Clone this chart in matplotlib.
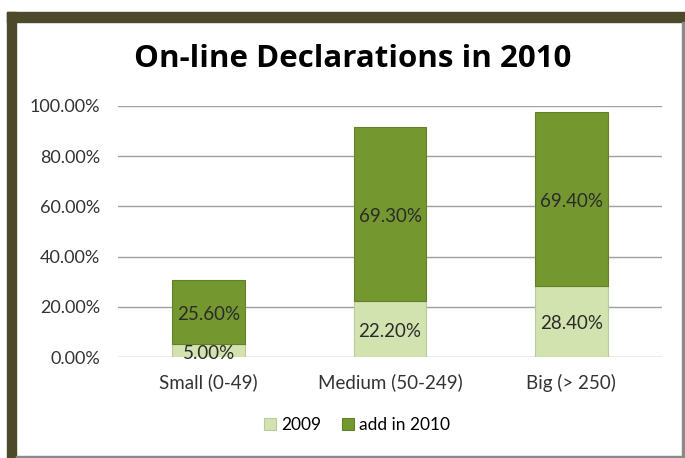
import matplotlib.pyplot as plt
from matplotlib.patches import Rectangle
from matplotlib.ticker import FuncFormatter

categories = ["Small (0-49)", "Medium (50-249)", "Big (> 250)"]
v2009 = [5.00, 22.20, 28.40]
v2010_add = [25.60, 69.30, 69.40]
series_names = ["2009", "add in 2010"]
title = "On-line Declarations in 2010"

light = "#d3e3b0"
dark = "#74972f"
frame = "#4d4a2c"

plt.rcParams["font.family"] = ["Lato", "DejaVu Sans"]

fig = plt.figure(figsize=(6.85, 4.58), dpi=100)
W, H = 685, 458

# frame: thick olive band top/left, thin grey right/bottom
fig.patches.append(Rectangle((7 / W, 1 - 22 / H), (W - 7) / W, 10 / H,
                             transform=fig.transFigure, color=frame, zorder=0))
fig.patches.append(Rectangle((7 / W, 0), 9 / W, 1 - 12 / H,
                             transform=fig.transFigure, color=frame, zorder=0))
fig.patches.append(Rectangle((682 / W, 0), 2 / W, 1 - 22 / H,
                             transform=fig.transFigure, color="#8a8a8a", zorder=0))
fig.patches.append(Rectangle((16 / W, 0), (W - 16) / W, 2 / H,
                             transform=fig.transFigure, color="#8a8a8a", zorder=0))

ax = fig.add_axes([118 / W, 1 - 357 / H, (662 - 118) / W, (357 - 106) / H])
x = range(len(categories))
b1 = ax.bar(x, v2009, width=0.4, color=light, edgecolor="#b9c99a",
            linewidth=0.8, label=series_names[0], zorder=3)
b2 = ax.bar(x, v2010_add, width=0.4, bottom=v2009, color=dark,
            edgecolor="#62802a", linewidth=0.8, label=series_names[1], zorder=3)

for bars, vals, bottoms in ((b1, v2009, [0, 0, 0]), (b2, v2010_add, v2009)):
    for rect, v, b in zip(bars, vals, bottoms):
        ax.text(rect.get_x() + rect.get_width() / 2, b + v / 2 - 1.0,
                "%.2f%%" % v, ha="center", va="center", fontsize=13.5,
                color="#2b2b2b", zorder=4)

ax.set_xlim(-0.5, 2.5)
ax.set_ylim(0, 100)
ax.set_yticks([0, 20, 40, 60, 80, 100])
ax.yaxis.set_major_formatter(FuncFormatter(lambda v, p: "%.2f%%" % v))
ax.set_xticks(list(x))
ax.set_xticklabels(categories)
ax.grid(axis="y", color="#a0a0a0", linewidth=1, zorder=0)
for s in ax.spines.values():
    s.set_visible(False)
ax.tick_params(length=0, colors="#333333")
ax.tick_params(axis="y", pad=13, labelsize=13)
ax.tick_params(axis="x", pad=12, labelsize=13.5)

fig.text(353 / W, 1 - 59 / H, title, ha="center", va="center",
         fontsize=22.5, fontweight="bold", color="black",
         family=["Open Sans", "DejaVu Sans"])

fig.legend(handles=[b1, b2], labels=series_names, loc="center",
           bbox_to_anchor=(357 / W, 1 - 425 / H), ncol=2, frameon=False,
           fontsize=12.5, handlelength=0.7, handleheight=0.7,
           handletextpad=0.3, columnspacing=1.2)

fig.savefig("out.png", dpi=100)
